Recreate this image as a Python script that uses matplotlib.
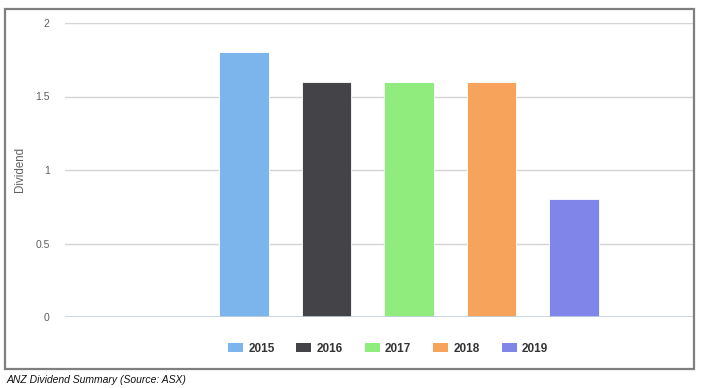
import matplotlib
matplotlib.use("Agg")
import matplotlib.pyplot as plt
from matplotlib.patches import Rectangle, Patch

plt.rcParams["font.family"] = ["Liberation Sans", "DejaVu Sans"]

years = ["2015", "2016", "2017", "2018", "2019"]
dividends = [1.80, 1.60, 1.60, 1.60, 0.80]
colors = ["#7cb5ec", "#434348", "#90ed7d", "#f7a35c", "#8085e9"]
yticks = [0, 0.5, 1, 1.5, 2]
ytick_labels = ["0", "0.5", "1", "1.5", "2"]

W, H = 710, 388
fig = plt.figure(figsize=(W / 100, H / 100), dpi=100)
fig.patch.set_facecolor("white")

# outer border box
fig.add_artist(Rectangle((5 / W, 1 - 369 / H), 689 / W, 360 / H, transform=fig.transFigure,
                         fill=False, edgecolor="#7f7f7f", linewidth=1.6))

ax = fig.add_axes([65 / W, 1 - 317 / H, (693 - 65) / W, (317 - 23) / H])
x = list(range(len(years)))
ax.bar(x, dividends, width=0.606, color=colors, edgecolor="white", linewidth=0.6, zorder=3)

pitch = 82.5
ax.set_xlim((65 - 244) / pitch, (693 - 244) / pitch)
ax.set_ylim(0, 2)
ax.set_yticks(yticks)
ax.set_yticklabels(ytick_labels)
ax.set_xticks([])
for s in ax.spines.values():
    s.set_visible(False)
ax.grid(axis="y", color="#d4d4d4", linewidth=1, zorder=0)
ax.axhline(0, color="#c0d0e0", linewidth=1.2, zorder=4)
ax.tick_params(axis="y", length=0, pad=11, labelsize=7.5, labelcolor="#606060")
ax.set_ylabel("Dividend", fontsize=8.3, color="#606060")
ax.yaxis.set_label_coords(-39 / 628, (317 - 169) / 294)

handles = [Patch(facecolor=c, edgecolor="none") for c in colors]
leg = fig.legend(handles, years, loc="center", bbox_to_anchor=(388 / W, 1 - 348.5 / H), ncol=5,
                 frameon=False, handlelength=1.27, handleheight=0.85, handletextpad=0.45,
                 columnspacing=1.85, prop={"weight": "bold", "size": 8.5})
for t in leg.get_texts():
    t.set_color("#333333")

fig.text(7 / W, 1 - 380 / H, "ANZ Dividend Summary (Source: ASX)", fontsize=7.5, style="italic",
         color="#111111", va="center", ha="left")

fig.savefig("out.png", dpi=100, facecolor="white")
